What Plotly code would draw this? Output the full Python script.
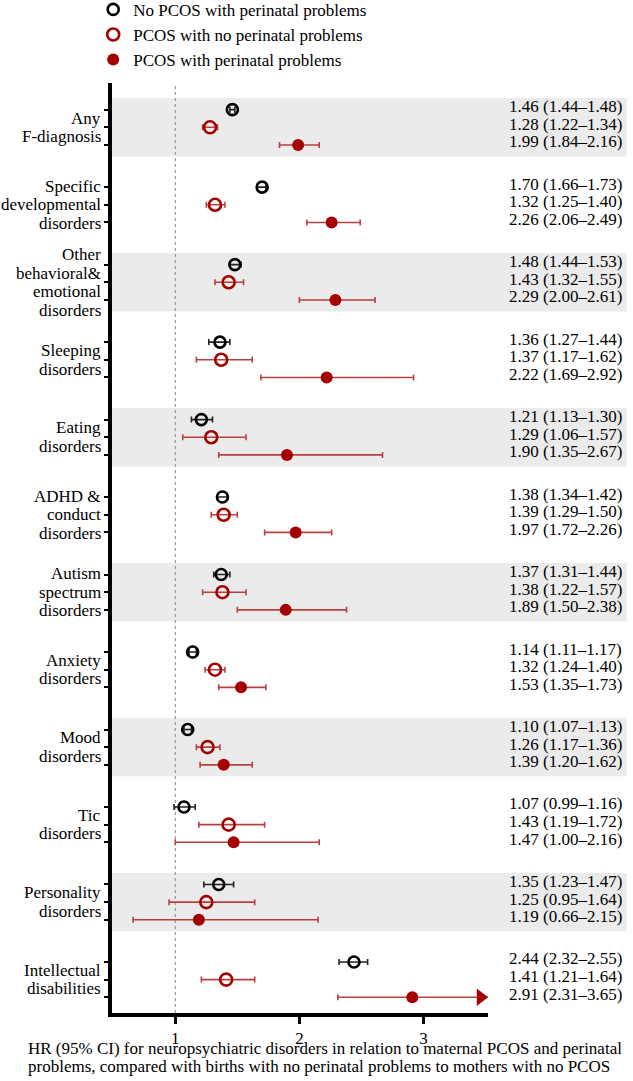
import plotly.graph_objects as go

# ---------------- data ----------------
categories = [
    ["Any", "F-diagnosis"],
    ["Specific", "developmental", "disorders"],
    ["Other", "behavioral&", "emotional", "disorders"],
    ["Sleeping", "disorders"],
    ["Eating", "disorders"],
    ["ADHD &", "conduct", "disorders"],
    ["Autism", "spectrum", "disorders"],
    ["Anxiety", "disorders"],
    ["Mood", "disorders"],
    ["Tic", "disorders"],
    ["Personality", "disorders"],
    ["Intellectual", "disabilities"],
]

series_names = [
    "No PCOS with perinatal problems",
    "PCOS with no perinatal problems",
    "PCOS with perinatal problems",
]

# HR, lower CI, upper CI for each series (same order as categories)
hr_nopcos_peri = [1.46, 1.70, 1.48, 1.36, 1.21, 1.38, 1.37, 1.14, 1.10, 1.07, 1.35, 2.44]
lo_nopcos_peri = [1.44, 1.66, 1.44, 1.27, 1.13, 1.34, 1.31, 1.11, 1.07, 0.99, 1.23, 2.32]
hi_nopcos_peri = [1.48, 1.73, 1.53, 1.44, 1.30, 1.42, 1.44, 1.17, 1.13, 1.16, 1.47, 2.55]

hr_pcos_noperi = [1.28, 1.32, 1.43, 1.37, 1.29, 1.39, 1.38, 1.32, 1.26, 1.43, 1.25, 1.41]
lo_pcos_noperi = [1.22, 1.25, 1.32, 1.17, 1.06, 1.29, 1.22, 1.24, 1.17, 1.19, 0.95, 1.21]
hi_pcos_noperi = [1.34, 1.40, 1.55, 1.62, 1.57, 1.50, 1.57, 1.40, 1.36, 1.72, 1.64, 1.64]

hr_pcos_peri = [1.99, 2.26, 2.29, 2.22, 1.90, 1.97, 1.89, 1.53, 1.39, 1.47, 1.19, 2.91]
lo_pcos_peri = [1.84, 2.06, 2.00, 1.69, 1.35, 1.72, 1.50, 1.35, 1.20, 1.00, 0.66, 2.31]
hi_pcos_peri = [2.16, 2.49, 2.61, 2.92, 2.67, 2.26, 2.38, 1.73, 1.62, 2.16, 2.15, 3.65]

x_ticks = [1, 2, 3]
axis_title_lines = [
    "HR (95% CI) for neuropsychiatric disorders in relation to maternal PCOS and perinatal",
    "problems, compared with births with no perinatal problems to mothers with no PCOS",
]

# ---------------- styling ----------------
FONT = "Liberation Serif, Times New Roman, serif"
BLACK = "#000000"
RED = "#A50000"
RED_BAR = "#B94040"
BAND = "#EBEBEB"
X_MIN, X_MAX = 0.49, 3.52
ROW_OFF = [-0.228, 0.0, 0.228]
LINE_STEP = 0.239

series = [
    (series_names[0], hr_nopcos_peri, lo_nopcos_peri, hi_nopcos_peri,
     dict(symbol="circle-open", size=11, color=BLACK, line=dict(width=2.6, color=BLACK)), "#222222"),
    (series_names[1], hr_pcos_noperi, lo_pcos_noperi, hi_pcos_noperi,
     dict(symbol="circle-open", size=12, color=RED, line=dict(width=2.6, color=RED)), RED_BAR),
    (series_names[2], hr_pcos_peri, lo_pcos_peri, hi_pcos_peri,
     dict(symbol="circle", size=12, color=RED, line=dict(width=0)), RED_BAR),
]

fig = go.Figure()
all_rows = []
for k, (name, hr, lo, hi, mk, bar) in enumerate(series):
    ys = [i + ROW_OFF[k] for i in range(len(categories))]
    all_rows += ys
    fig.add_trace(go.Scatter(
        x=hr, y=ys, mode="markers", name=name, marker=mk,
        error_x=dict(type="data", symmetric=False,
                     array=[h - v for h, v in zip(hi, hr)],
                     arrayminus=[v - l for v, l in zip(hr, lo)],
                     color=bar, thickness=1.6, width=3),
    ))
    # arrows for CIs that exceed the axis
    ax = [X_MAX - 0.06 for h in hi if h > X_MAX]
    ay = [y for h, y in zip(hi, ys) if h > X_MAX]
    if ax:
        fig.add_trace(go.Scatter(
            x=ax, y=ay, mode="markers", showlegend=False, cliponaxis=False,
            marker=dict(symbol="triangle-right", size=15, color=RED), hoverinfo="skip"))

shapes = []
for i in range(0, len(categories), 2):
    shapes.append(dict(type="rect", xref="paper", yref="y", x0=0, x1=1.369,
                       y0=i - 0.377, y1=i + 0.377, fillcolor=BAND,
                       line=dict(width=0), layer="below"))
shapes.append(dict(type="line", xref="x", yref="paper", x0=1, x1=1, y0=0, y1=1,
                   line=dict(color="#888888", width=1, dash="dot"), layer="below"))

annotations = []
for i, lines in enumerate(categories):
    n = len(lines)
    for j, t in enumerate(lines):
        annotations.append(dict(
            x=-0.023, xref="paper", y=i + (j - (n - 1) / 2) * LINE_STEP, yref="y",
            text=t, showarrow=False, xanchor="right", yanchor="middle",
            font=dict(family=FONT, size=17, color=BLACK)))

for k, (name, hr, lo, hi, mk, bar) in enumerate(series):
    for i in range(len(categories)):
        annotations.append(dict(
            x=1.05, xref="paper", y=i + ROW_OFF[k], yref="y", yshift=3,
            text=f"{hr[i]:.2f} ({lo[i]:.2f}\u2013{hi[i]:.2f})", showarrow=False,
            xanchor="left", yanchor="middle",
            font=dict(family=FONT, size=17, color=BLACK)))

for j, t in enumerate(axis_title_lines):
    annotations.append(dict(
        x=-0.229, xref="paper", y=-0.038 - j * 0.0198, yref="paper",
        text=t, showarrow=False, xanchor="left", yanchor="middle",
        font=dict(family=FONT, size=17, color=BLACK)))

fig.update_layout(
    width=633, height=1081,
    margin=dict(l=112, r=145, t=83, b=68, autoexpand=False),
    paper_bgcolor="white", plot_bgcolor="rgba(0,0,0,0)",
    font=dict(family=FONT, size=17, color=BLACK),
    shapes=shapes, annotations=annotations,
    showlegend=True,
    legend=dict(x=-0.05, xanchor="left", y=1.098, yanchor="top",
                font=dict(family=FONT, size=17, color=BLACK),
                bgcolor="rgba(0,0,0,0)", borderwidth=0),
    xaxis=dict(range=[X_MIN, X_MAX], tickvals=x_ticks, ticktext=[str(t) for t in x_ticks],
               showgrid=False, zeroline=False, showline=True, linecolor=BLACK, linewidth=3.5,
               ticks="outside", ticklen=7, tickwidth=3, tickcolor=BLACK,
               tickfont=dict(family=FONT, size=17, color=BLACK)),
    yaxis=dict(range=[11.431, -0.572], tickvals=all_rows, ticktext=[""] * len(all_rows),
               showgrid=False, zeroline=False, showline=True, linecolor=BLACK, linewidth=3.5,
               ticks="outside", ticklen=4, tickwidth=2, tickcolor=BLACK),
)

# remove the browser's default 8px page margin so the figure fills the window exactly
fig.write_html("out.html", config={"displayModeBar": False},
               post_script="document.body.style.margin='0px';")
